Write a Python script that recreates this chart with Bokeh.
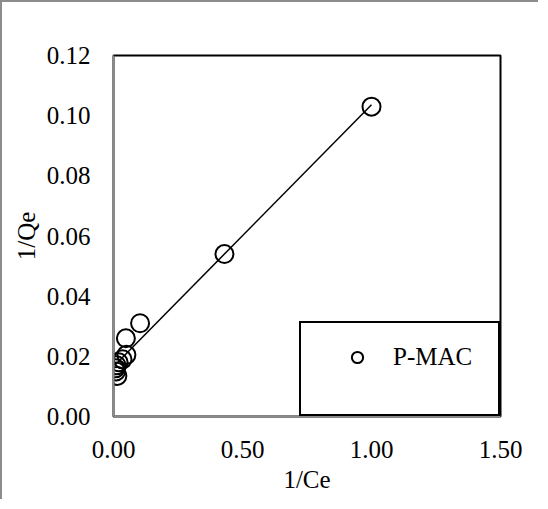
import numpy as np
from bokeh.plotting import figure
from bokeh.models import FixedTicker, NumeralTickFormatter, Range1d, Legend, LegendItem, ColumnDataSource
from bokeh.embed import file_html
from bokeh.resources import INLINE

# data
inv_ce = [1.00, 0.43, 0.103, 0.048, 0.050, 0.035, 0.020, 0.012, 0.008, 0.010, 0.015]
inv_qe = [0.103, 0.054, 0.031, 0.026, 0.0205, 0.019, 0.018, 0.017, 0.016, 0.015, 0.0135]
series_name = "P-MAC"
x_ticks = [0.0, 0.5, 1.0, 1.5]
y_ticks = [0.00, 0.02, 0.04, 0.06, 0.08, 0.10, 0.12]

FONT = "Liberation Serif"
FS = "25px"

p = figure(width=538, height=499, output_backend="svg", toolbar_location=None,
           x_range=Range1d(0, 1.5), y_range=Range1d(0, 0.12),
           min_border_left=111, min_border_right=40, min_border_top=53, min_border_bottom=85,
           background_fill_color="white", border_fill_color="white")
p.styles = {"border-left": "2px solid #8c8c8c", "border-top": "2px solid #8c8c8c"}

p.grid.visible = False
p.outline_line_color = "black"
p.outline_line_width = 2

for ax, ticks in ((p.xaxis[0], x_ticks), (p.yaxis[0], y_ticks)):
    ax.ticker = FixedTicker(ticks=ticks)
    ax.formatter = NumeralTickFormatter(format="0.00")
    ax.axis_line_color = "#8c8c8c"
    ax.axis_line_width = 2
    ax.major_tick_line_color = None
    ax.minor_tick_line_color = None
    ax.major_tick_out = 0
    ax.major_tick_in = 0
    ax.major_label_text_font = FONT
    ax.major_label_text_font_size = FS
    ax.major_label_text_color = "black"
    ax.axis_label_text_font = FONT
    ax.axis_label_text_font_size = FS
    ax.axis_label_text_font_style = "normal"
    ax.axis_label_text_color = "black"

p.xaxis.axis_label = "1/Ce"
p.yaxis.axis_label = "1/Qe"
p.xaxis.major_label_standoff = 24
p.xaxis.axis_label_standoff = 5
p.yaxis.major_label_standoff = 23
p.yaxis.axis_label_standoff = 4

# trendline (least squares from data)
xs = np.array(inv_ce)
ys = np.array(inv_qe)
m, b = np.polyfit(xs, ys, 1)
lx = np.array([xs.min(), xs.max()])
p.line(lx, m * lx + b, line_color="black", line_width=1.5)

src = ColumnDataSource(dict(x=inv_ce, y=inv_qe))
r = p.scatter("x", "y", source=src, marker="circle", size=18, fill_color=None,
              line_color="black", line_width=2)

legend = Legend(items=[LegendItem(label=series_name, renderers=[r])],
                location="bottom_right", margin=0, padding=20,
                glyph_width=72, glyph_height=28, label_height=28, label_standoff=0,
                label_width=85, spacing=0,
                title=" ", title_location="below", title_text_font_size="1px", title_standoff=22,
                border_line_color="black", border_line_width=2, border_line_alpha=1,
                label_text_font=FONT, label_text_font_size=FS, label_text_color="black",
                background_fill_color="white", background_fill_alpha=1)
p.add_layout(legend)

open("out.html", "w").write(file_html(p, INLINE))
